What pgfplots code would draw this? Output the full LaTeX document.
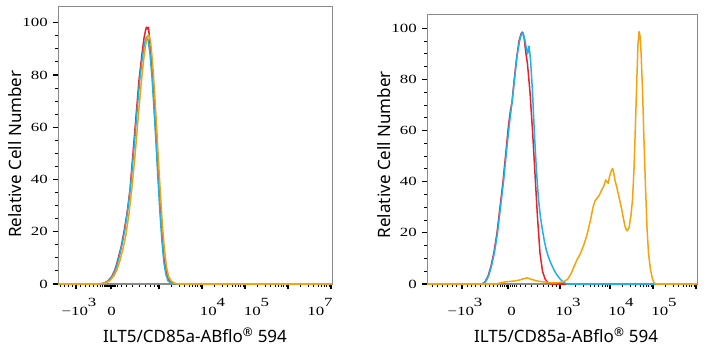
\documentclass[border=0pt]{standalone}
\usepackage{fontspec}
\setmainfont{Noto Sans}
\newfontfamily\tickfont{Liberation Serif}
\usepackage{graphicx}
\usepackage{pgfplots}
\pgfplotsset{compat=1.18}
\definecolor{cred}{HTML}{E8212B}
\definecolor{ccyan}{HTML}{1DB2EA}
\definecolor{corange}{HTML}{F5A30A}
\definecolor{framec}{HTML}{8A8A8A}
\newcommand{\tl}[1]{\scalebox{1.35}[1]{\tickfont\fontsize{12.5}{12.5}\selectfont #1}}
\newcommand{\tp}[1]{\tl{10\raisebox{0.72em}{#1}}}
\pgfplotsset{
 flowaxis/.style={
  scale only axis, anchor=south west,
  ymin=0,
  axis line style={draw=framec, line width=1pt},
  tick pos=left, tick align=outside,
  major tick length=5pt, minor tick length=3pt,
  major tick style={black, line width=1.2pt},
  minor tick style={black, line width=1pt},
  ytick={0,20,40,60,80,100},
  yticklabels={\tl{0},\tl{20},\tl{40},\tl{60},\tl{80},\tl{100}},
  minor y tick num=3,
  yticklabel style={anchor=east, inner sep=0pt, xshift=-5pt},
  xticklabels={},
  extra x tick style={major tick length=0pt, tick label style={anchor=base, inner sep=0pt, yshift=-31pt}},
  xlabel={ILT5/CD85a-ABflo\textsuperscript{®} 594},
  ylabel={Relative Cell Number},
  label style={font=\fontsize{17}{20}\selectfont},
  clip=false,
  every axis plot/.append style={line width=1.5pt, line join=round, mark=none},
 }
}
\begin{document}
\begin{tikzpicture}
\useasboundingbox (0,0) rectangle (708pt,350pt);
% Left panel
\begin{axis}[flowaxis,
  at={(58pt,66pt)}, width=274pt, height=277pt,
  xmin=58, xmax=332, ymax=106,
  xtick={76,111,159,202,245,288,331},
  minor xtick={60,64,68,72,80,85,89,93,97,100,102,104,105,106,107,108,109,110,112,113,114,115,117,121,126,132,139,145,150,154,157,
   171.9,179.5,184.9,189.1,192.5,195.3,197.8,200.0,
   214.9,222.5,227.9,232.1,235.5,238.3,240.8,243.0,
   257.9,265.5,270.9,275.1,278.5,281.3,283.8,286.0,
   300.9,308.5,313.9,318.1,321.5,324.3,326.8,329.0},
  extra x ticks={79,111.7,212.5,256.5,320},
  extra x tick labels={\tl{−10\raisebox{0.72em}{3}},\tl{0},\tp{4},\tp{5},\tp{7}},
  xlabel style={at={(axis description cs:0.5,-0.184)}, anchor=center},
  ylabel style={at={(axis description cs:-0.155,0.469)}, anchor=center},
]
\addplot[cred] coordinates {(58,0)(100,0)(104,0.3)(108,1.2)(112,3)(115,5.5)(118,9.5)(121,14)(124,20)(127,27)(130,36)(133,50)(136,64)(139,78)(142,88)(144,94)(145.5,97)(146.5,98.3)(147.5,97.6)(148.5,98.2)(150,92)(152,82)(154,70)(156,57)(158,43)(160,30)(162,19)(164,10)(166,5)(168,2)(171,0.5)(175,0)(332,0)};
\addplot[ccyan] coordinates {(58,0)(100,0)(105,0.4)(109,1.4)(113,3.3)(116,6)(119,10)(122,15)(125,21)(128,29)(131,39)(134,52)(137,66)(140,79)(142.5,87)(144.5,92)(146.5,94.5)(148,93.5)(150,88)(152,79)(154,67)(156,54)(158,40)(160,27)(162,16)(164,8)(166,3.5)(168,1.2)(171,0.3)(175,0)(332,0)};
\addplot[corange] coordinates {(58,0)(100,0)(106,0.4)(110,1.3)(114,3.2)(117,5.5)(120,9)(123,13.5)(126,19)(129,27)(132,37)(135,49)(138,63)(141,76)(144,87)(146.5,93.5)(148.5,95.5)(150.5,93)(152.5,85)(154.5,74)(156.5,61)(158.5,47)(160.5,34)(162.5,22)(164.5,13)(166.5,6.5)(168.5,3)(171,1.2)(174,0.4)(178,0)(332,0)};
\draw[framec, line width=1pt] (rel axis cs:0,1) -- (rel axis cs:1,1) -- (rel axis cs:1,0);
\end{axis}
% Right panel
\begin{axis}[flowaxis,
  at={(427pt,66pt)}, width=270pt, height=269pt,
  xmin=427, xmax=697, ymax=105.2,
  xtick={462,508,560,610,653,696},
  minor xtick={432,437,442,447,452,456,467,471,475,480,485,489,493,497,500,502,504,506,510,512,514,516,520,525,531,537,543,548,552,556,
   575.1,583.9,590.1,594.9,598.9,602.3,605.2,607.7,
   622.9,630.5,635.9,640.1,643.5,646.3,648.8,651.0,
   665.9,673.5,678.9,683.1,686.5,689.3,691.8,694.0},
  extra x ticks={465,511.7,568,621,664},
  extra x tick labels={\tl{−10\raisebox{0.72em}{3}},\tl{0},\tp{3},\tp{4},\tp{5}},
  xlabel style={at={(axis description cs:0.515,-0.19)}, anchor=center},
  ylabel style={at={(axis description cs:-0.159,0.481)}, anchor=center},
]
\addplot[cred] coordinates {(427,0)(482,0)(485,0.8)(488,3)(491,7)(494,12.5)(497,20)(500,30)(503,40)(506,52)(508.5,62)(510.5,68)(512,71)(514,79)(516.5,88)(519,95)(521,97.8)(522.3,98.5)(524,96.5)(526,90)(527.5,86)(530,75)(532.5,60)(535,43)(537.5,26)(540,12)(542.5,5)(545,2)(548,0.5)(551,0)(697,0)};
\addplot[ccyan] coordinates {(427,0)(482,0)(485.5,0.8)(488.5,3)(491.5,7)(494.5,12.5)(497.5,20)(500.5,30)(503.5,40)(506.5,52)(509.5,63)(512,71)(514.5,80)(517,89)(519.5,95)(521.5,97.8)(523,98.3)(524.5,96)(526,93)(527.5,90)(529,93)(530.5,88)(532.5,75)(534.5,58)(536.5,44)(538.5,33)(540.5,26)(542.5,21)(544.5,16.5)(546.5,13)(548.5,10.5)(551,8)(554,5.5)(557,3.5)(560,2)(563,0.8)(567,0)(697,0)};
\addplot[corange] coordinates {(427,0)(497,0)(500,0.4)(505,0.8)(510,1.0)(515,1.2)(520,1.6)(524,2.1)(527,2.4)(530,2.0)(535,1.4)(540,1.0)(545,0.8)(550,0.5)(555,0.4)(560,0.6)(564,1.0)(567.5,1.8)(571,4)(574,6.8)(577,9.5)(580.5,12)(584,15.5)(587.5,20)(590.5,25)(593,30)(595,32.5)(599,34.5)(602,37)(604,38.5)(605.7,40.7)(607,40)(608.2,39.4)(609.5,42)(611,44)(612.5,45.2)(613.5,44)(615,40.5)(617,37.5)(619,34)(621,30.5)(623,26.5)(625,22.5)(627,20.8)(629,22)(631,27)(632.5,33)(634,45)(635.5,63)(637,82)(638,94)(639,98.7)(640,97)(641,91)(642.5,76)(644,56)(645.5,38)(647,22)(648.5,12)(650.5,5.5)(652.5,2)(654,0.5)(656,0)(697,0)};
\draw[framec, line width=1pt] (rel axis cs:0,1) -- (rel axis cs:1,1) -- (rel axis cs:1,0);
\end{axis}
\end{tikzpicture}
\end{document}
